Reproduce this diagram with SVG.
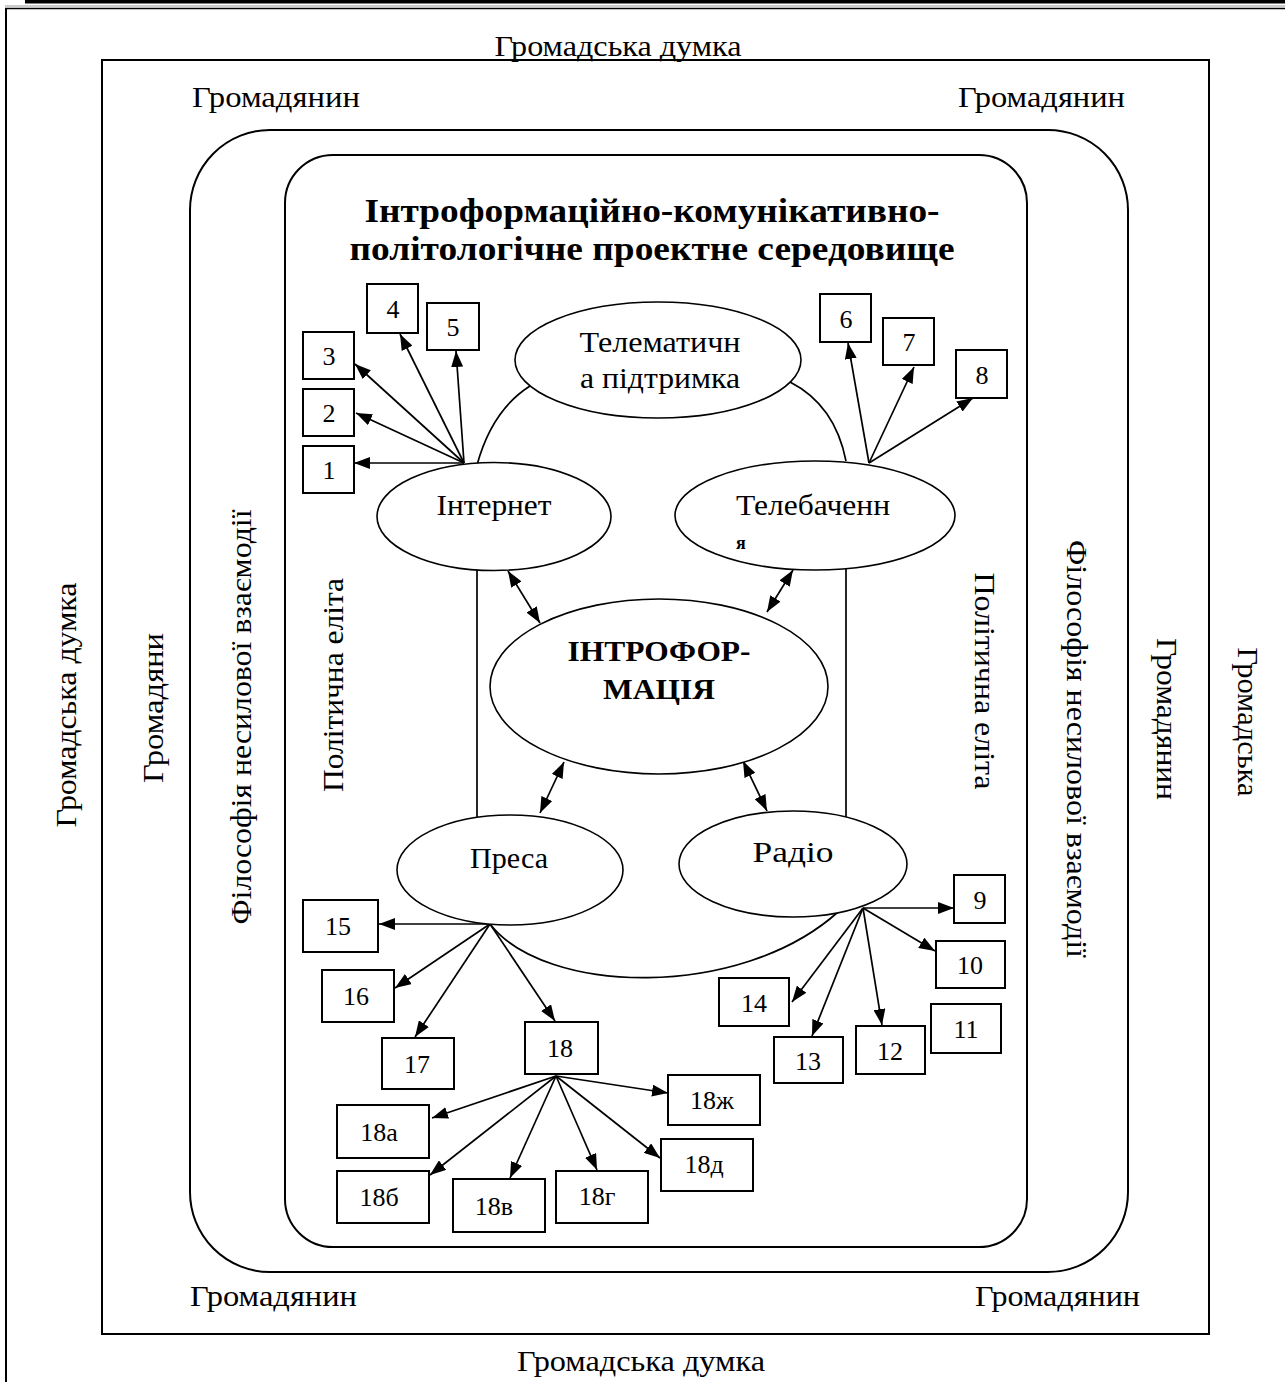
<svg xmlns="http://www.w3.org/2000/svg" width="1285" height="1382" viewBox="0 0 1285 1382">
<defs>
<style>
.t{font-family:"Liberation Serif","Times New Roman",serif;fill:#000}
.lab{font-size:30px}
.num{font-size:26px;text-anchor:middle}
.mid{text-anchor:middle}
.b{font-weight:bold}
.box{fill:#fff;stroke:#000;stroke-width:2}
.ell{fill:#fff;stroke:#000;stroke-width:1.6}
.frm{fill:none;stroke:#000;stroke-width:2}
.c{fill:none;stroke:#000;stroke-width:1.7}
.a{fill:none;stroke:#000;stroke-width:1.7;marker-end:url(#ah)}
.d{fill:none;stroke:#000;stroke-width:1.7;marker-start:url(#ah);marker-end:url(#ah)}
</style>
<marker id="ah" viewBox="0 0 16 12" refX="16" refY="6" markerWidth="16" markerHeight="12" markerUnits="userSpaceOnUse" orient="auto-start-reverse">
<path d="M0,0 L16,6 L0,12 z" fill="#000"/>
</marker>
</defs>
<rect width="1285" height="1382" fill="#fff"/>
<g id="page-frame">
<rect x="25" y="0" width="1260" height="3.5" fill="#000"/>
<line x1="5" y1="6" x2="1285" y2="6" stroke="#999" stroke-width="1"/>
<line x1="5" y1="8.5" x2="1285" y2="8.5" stroke="#000" stroke-width="1.5"/>
<line x1="6" y1="8" x2="6" y2="1382" stroke="#000" stroke-width="2"/>
</g>
<g id="outer-rect">
<rect class="frm" x="102" y="60" width="1107" height="1274"/>
</g>
<g id="rounded-outer">
<rect class="frm" x="190" y="130" width="938" height="1142" rx="80" ry="80"/>
</g>
<g id="rounded-inner">
<rect class="frm" x="285" y="155" width="742" height="1092" rx="48" ry="48"/>
</g>
<g id="outer-labels">
<text class="t lab mid" x="618" y="56" textLength="247" lengthAdjust="spacingAndGlyphs">Громадська думка</text>
<text class="t lab mid" x="641" y="1371" textLength="248" lengthAdjust="spacingAndGlyphs">Громадська думка</text>
<text class="t lab" x="192" y="107" textLength="168" lengthAdjust="spacingAndGlyphs">Громадянин</text>
<text class="t lab" x="958" y="107" textLength="167" lengthAdjust="spacingAndGlyphs">Громадянин</text>
<text class="t lab" x="190" y="1306" textLength="167" lengthAdjust="spacingAndGlyphs">Громадянин</text>
<text class="t lab" x="975" y="1306" textLength="165" lengthAdjust="spacingAndGlyphs">Громадянин</text>
<text class="t lab mid" transform="translate(76,705) rotate(-90)" x="0" y="0" textLength="245" lengthAdjust="spacingAndGlyphs">Громадська думка</text>
<text class="t lab mid" transform="translate(163,708) rotate(-90)" x="0" y="0" textLength="150" lengthAdjust="spacingAndGlyphs">Громадяни</text>
<text class="t lab mid" transform="translate(251,717) rotate(-90)" x="0" y="0" textLength="415" lengthAdjust="spacingAndGlyphs">Філософія несилової взаємодії</text>
<text class="t lab mid" transform="translate(343,685) rotate(-90)" x="0" y="0" textLength="214" lengthAdjust="spacingAndGlyphs">Політична еліта</text>
<text class="t lab mid" transform="translate(975,681) rotate(90)" x="0" y="0" textLength="217" lengthAdjust="spacingAndGlyphs">Політична еліта</text>
<text class="t lab mid" transform="translate(1067,749) rotate(90)" x="0" y="0" textLength="418" lengthAdjust="spacingAndGlyphs">Філософія несилової взаємодії</text>
<text class="t lab mid" transform="translate(1157,719) rotate(90)" x="0" y="0" textLength="162" lengthAdjust="spacingAndGlyphs">Громадянин</text>
<text class="t lab mid" transform="translate(1238,722) rotate(90)" x="0" y="0" textLength="149" lengthAdjust="spacingAndGlyphs">Громадська</text>
</g>
<g id="title">
<text class="t b mid" x="652" y="222" font-size="33" textLength="575" lengthAdjust="spacingAndGlyphs">Інтроформаційно-комунікативно-</text>
<text class="t b mid" x="652" y="260" font-size="33" textLength="605" lengthAdjust="spacingAndGlyphs">політологічне проектне середовище</text>
</g>
<g id="connectors">
<path class="c" d="M477,465 Q492,410 530,386"/>
<path class="c" d="M846,461 Q835,405 790,382"/>
<path class="c" d="M490,924 C545,995 740,1000 838,912"/>
<line class="c" x1="477" y1="570" x2="477" y2="817"/>
<line class="c" x1="846" y1="569" x2="846" y2="817"/>
<line class="d" x1="508" y1="571" x2="540" y2="623"/>
<line class="d" x1="793" y1="570" x2="767" y2="612"/>
<line class="d" x1="564" y1="762" x2="540" y2="813"/>
<line class="d" x1="743" y1="761" x2="767" y2="811"/>
<line class="a" x1="464" y1="463" x2="354" y2="463"/>
<line class="a" x1="464" y1="463" x2="356" y2="413"/>
<line class="a" x1="464" y1="463" x2="355" y2="364"/>
<line class="a" x1="464" y1="463" x2="400" y2="334"/>
<line class="a" x1="464" y1="463" x2="456" y2="351"/>
<line class="a" x1="869" y1="463" x2="848" y2="343"/>
<line class="a" x1="869" y1="463" x2="914" y2="367"/>
<line class="a" x1="869" y1="463" x2="973" y2="398"/>
<line class="a" x1="863" y1="908" x2="954" y2="908"/>
<line class="a" x1="863" y1="908" x2="935" y2="951"/>
<line class="a" x1="863" y1="908" x2="882" y2="1025"/>
<line class="a" x1="863" y1="908" x2="812" y2="1036"/>
<line class="a" x1="863" y1="908" x2="792" y2="1002"/>
<line class="a" x1="490" y1="924" x2="379" y2="924"/>
<line class="a" x1="490" y1="924" x2="395" y2="988"/>
<line class="a" x1="490" y1="924" x2="415" y2="1037"/>
<line class="a" x1="490" y1="924" x2="555" y2="1021"/>
<line class="a" x1="556" y1="1076" x2="432" y2="1118"/>
<line class="a" x1="556" y1="1076" x2="430" y2="1175"/>
<line class="a" x1="556" y1="1076" x2="510" y2="1178"/>
<line class="a" x1="556" y1="1076" x2="597" y2="1170"/>
<line class="a" x1="556" y1="1076" x2="660" y2="1158"/>
<line class="a" x1="556" y1="1076" x2="668" y2="1093"/>
</g>
<g id="telematic">
<ellipse class="ell" cx="658" cy="360" rx="143" ry="58"/>
<text class="t lab mid" x="660" y="352" textLength="161" lengthAdjust="spacingAndGlyphs">Телематичн</text>
<text class="t lab mid" x="660" y="388" textLength="160" lengthAdjust="spacingAndGlyphs">а підтримка</text>
</g>
<g id="internet">
<ellipse class="ell" cx="494" cy="516.5" rx="117" ry="54"/>
<text class="t lab mid" x="494" y="515" textLength="115" lengthAdjust="spacingAndGlyphs">Інтернет</text>
</g>
<g id="tv">
<ellipse class="ell" cx="815" cy="515.5" rx="140" ry="54.5"/>
<text class="t lab" x="736" y="515" textLength="154" lengthAdjust="spacingAndGlyphs">Телебаченн</text>
<text class="t b" x="736" y="549" font-size="18">я</text>
</g>
<g id="introformation">
<ellipse class="ell" cx="659" cy="686.5" rx="169" ry="87.5"/>
<text class="t b mid" x="659" y="661" font-size="30" textLength="183" lengthAdjust="spacingAndGlyphs">ІНТРОФОР-</text>
<text class="t b mid" x="659" y="699" font-size="30" textLength="112" lengthAdjust="spacingAndGlyphs">МАЦІЯ</text>
</g>
<g id="press">
<ellipse class="ell" cx="510" cy="870" rx="113" ry="55"/>
<text class="t lab mid" x="509" y="868" textLength="78" lengthAdjust="spacingAndGlyphs">Преса</text>
</g>
<g id="radio">
<ellipse class="ell" cx="793" cy="864" rx="114" ry="53"/>
<text class="t lab mid" x="793" y="862" textLength="81" lengthAdjust="spacingAndGlyphs">Радіо</text>
</g>
<g id="box-1"><rect class="box" x="303" y="446" width="51" height="47"/><text class="t num" x="329" y="479">1</text></g>
<g id="box-2"><rect class="box" x="303" y="389" width="51" height="47"/><text class="t num" x="329" y="422">2</text></g>
<g id="box-3"><rect class="box" x="303" y="332" width="51" height="47"/><text class="t num" x="329" y="365">3</text></g>
<g id="box-4"><rect class="box" x="367" y="284" width="51" height="49"/><text class="t num" x="393" y="318">4</text></g>
<g id="box-5"><rect class="box" x="427" y="303" width="52" height="47"/><text class="t num" x="453" y="336">5</text></g>
<g id="box-6"><rect class="box" x="820" y="294" width="51" height="48"/><text class="t num" x="846" y="328">6</text></g>
<g id="box-7"><rect class="box" x="883" y="318" width="51" height="47"/><text class="t num" x="909" y="351">7</text></g>
<g id="box-8"><rect class="box" x="956" y="350" width="51" height="48"/><text class="t num" x="982" y="384">8</text></g>
<g id="box-9"><rect class="box" x="954" y="875" width="51" height="48"/><text class="t num" x="980" y="909">9</text></g>
<g id="box-10"><rect class="box" x="936" y="941" width="69" height="47"/><text class="t num" x="970" y="974">10</text></g>
<g id="box-11"><rect class="box" x="931" y="1004" width="70" height="49"/><text class="t num" x="966" y="1038">11</text></g>
<g id="box-12"><rect class="box" x="856" y="1026" width="69" height="48"/><text class="t num" x="890" y="1060">12</text></g>
<g id="box-13"><rect class="box" x="774" y="1037" width="69" height="46"/><text class="t num" x="808" y="1070">13</text></g>
<g id="box-14"><rect class="box" x="719" y="978" width="70" height="48"/><text class="t num" x="754" y="1012">14</text></g>
<g id="box-15"><rect class="box" x="303" y="900" width="75" height="52"/><text class="t num" x="338" y="935">15</text></g>
<g id="box-16"><rect class="box" x="322" y="970" width="72" height="52"/><text class="t num" x="356" y="1005">16</text></g>
<g id="box-17"><rect class="box" x="382" y="1038" width="72" height="51"/><text class="t num" x="417" y="1073">17</text></g>
<g id="box-18"><rect class="box" x="525" y="1022" width="73" height="52"/><text class="t num" x="560" y="1057">18</text></g>
<g id="box-18a"><rect class="box" x="337" y="1105" width="92" height="53"/><text class="t num" x="379" y="1141">18а</text></g>
<g id="box-18b"><rect class="box" x="337" y="1171" width="92" height="52"/><text class="t num" x="379" y="1206">18б</text></g>
<g id="box-18v"><rect class="box" x="453" y="1179" width="92" height="53"/><text class="t num" x="494" y="1215">18в</text></g>
<g id="box-18g"><rect class="box" x="556" y="1171" width="92" height="52"/><text class="t num" x="597" y="1205">18г</text></g>
<g id="box-18d"><rect class="box" x="661" y="1139" width="92" height="52"/><text class="t num" x="704" y="1173">18д</text></g>
<g id="box-18zh"><rect class="box" x="668" y="1075" width="92" height="50"/><text class="t num" x="712" y="1109">18ж</text></g>
</svg>
